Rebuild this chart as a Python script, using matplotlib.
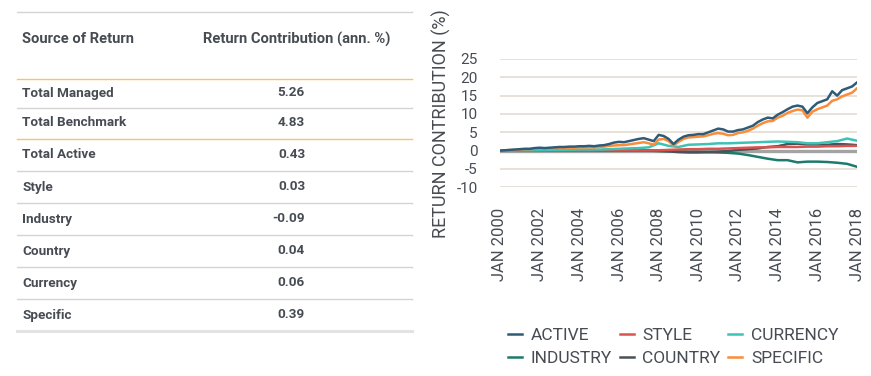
import numpy as np
import matplotlib
matplotlib.use("Agg")
import matplotlib.pyplot as plt
from matplotlib.lines import Line2D

plt.rcParams['font.family'] = ['Roboto', 'DejaVu Sans']
plt.rcParams['axes.unicode_minus'] = False

# table data
sources = ["Total Managed", "Total Benchmark", "Total Active", "Style",
           "Industry", "Country", "Currency", "Specific"]
contrib = ["5.26", "4.83", "0.43", "0.03", "-0.09", "0.04", "0.06", "0.39"]

# chart data (cumulative return contribution, %)
years_q = np.arange(2000, 2018.01, 0.25)
active = [0.0, 0.1, 0.2, 0.3, 0.4, 0.5, 0.5, 0.7, 0.8, 0.7, 0.8, 0.9,
          1.0, 1.0, 1.1, 1.1, 1.2, 1.2, 1.3, 1.2, 1.4, 1.5, 1.8, 2.2,
          2.4, 2.3, 2.6, 2.9, 3.2, 3.4, 3.0, 2.6, 4.3, 4.0, 3.2, 1.8,
          3.0, 3.8, 4.2, 4.3, 4.5, 4.5, 5.0, 5.5, 6.0, 5.8, 5.2, 5.2,
          5.6, 5.8, 6.3, 6.8, 7.8, 8.5, 9.0, 8.8, 9.8, 10.5, 11.3, 12.0,
          12.3, 12.0, 10.2, 11.8, 13.0, 13.5, 14.0, 16.2, 15.0, 16.5, 17.0, 17.5,
          18.6]
specific = [0.0, 0.1, 0.15, 0.2, 0.3, 0.4, 0.4, 0.5, 0.6, 0.5, 0.6, 0.7,
            0.7, 0.7, 0.8, 0.8, 0.9, 0.9, 0.9, 0.9, 1.0, 1.1, 1.3, 1.4,
            1.5, 1.5, 1.7, 1.9, 2.1, 2.3, 2.0, 1.6, 3.0, 3.2, 2.6, 1.4,
            2.4, 3.2, 3.6, 3.7, 3.8, 3.9, 4.2, 4.6, 4.8, 4.6, 4.2, 4.3,
            4.8, 5.0, 5.4, 6.0, 6.8, 7.5, 8.0, 8.1, 9.0, 9.5, 10.3, 10.8,
            11.2, 11.0, 9.0, 10.6, 11.3, 11.8, 12.3, 13.6, 14.0, 14.8, 15.3, 15.8,
            17.0]

years_h = np.arange(2000, 2018.01, 0.5)
currency = [0.0, 0.05, 0.1, 0.1, 0.15, 0.2, 0.2, 0.25, 0.3, 0.3, 0.3, 0.4,
            0.5, 0.6, 0.7, 0.9, 2.0, 1.3, 1.0, 1.6, 1.7, 1.8, 2.0, 2.0,
            2.1, 2.2, 2.3, 2.4, 2.5, 2.4, 2.3, 2.0, 2.0, 2.3, 2.6, 3.3,
            2.7]
industry = [0.0, 0.0, 0.05, 0.05, 0.1, 0.1, 0.1, 0.1, 0.1, 0.1, 0.1, 0.1,
            0.1, 0.1, 0.1, 0.05, 0.0, -0.1, -0.2, -0.3, -0.3, -0.4, -0.5, -0.6,
            -0.8, -1.2, -1.7, -2.2, -2.6, -2.6, -3.2, -3.0, -3.0, -3.1, -3.3, -3.6,
            -4.4]
country = [0.0, 0.0, 0.05, 0.05, 0.05, 0.05, 0.05, 0.05, 0.05, 0.05, 0.0, 0.0,
           0.0, 0.0, 0.0, 0.0, -0.1, -0.2, -0.4, -0.5, -0.5, -0.4, -0.3, -0.1,
           0.2, 0.4, 0.6, 1.0, 1.2, 1.8, 1.9, 1.7, 1.7, 1.6, 1.8, 1.7,
           1.5]
style = [0.0, 0.0, 0.0, 0.0, 0.0, 0.0, 0.0, 0.0, 0.0, 0.0, 0.05, 0.05,
         0.05, 0.05, 0.05, 0.05, 0.1, 0.2, 0.3, 0.4, 0.4, 0.5, 0.5, 0.6,
         0.7, 0.8, 0.9, 0.9, 1.0, 1.0, 1.0, 1.1, 1.1, 1.2, 1.2, 1.3,
         1.3]

tick_years = list(range(2000, 2019, 2))
tick_labels = ["JAN %d" % y for y in tick_years]

txt_col = "#474c53"

fig = plt.figure(figsize=(8.71, 3.76), dpi=100)

# ---- table (pixel layout on a blank axes) ----
tab = fig.add_axes([0, 0, 435.5 / 871, 1])
tab.set_xlim(0, 435.5)
tab.set_ylim(376, 0)
tab.axis("off")

x0, x1 = 17, 412
tab.add_line(Line2D([x0, x1], [12, 12], color="#d4d4d4", lw=1))
for y in [108, 171, 203, 235, 267, 299]:
    tab.add_line(Line2D([x0, x1], [y, y], color="#d4d4d4", lw=1))
for y in [79, 139]:
    tab.add_line(Line2D([x0, x1], [y, y], color="#f5c36b", lw=1))
tab.add_line(Line2D([x0, x1], [331, 331], color="#e3e3e3", lw=2.2))

tab.text(22, 39, "Source of Return", fontsize=10.6, fontweight="bold",
         color=txt_col, va="center", ha="left")
tab.text(203, 39, "Return Contribution (ann. %)", fontsize=10.6,
         fontweight="bold", color=txt_col, va="center", ha="left")
row_y = [93, 123, 155, 187, 219, 251, 283, 315]
for y, name, val in zip(row_y, sources, contrib):
    tab.text(22, y, name, fontsize=9.7, fontweight="bold", color=txt_col,
             va="center", ha="left")
    tab.text(305, y, val, fontsize=9.7, fontweight="bold", color=txt_col,
             va="center", ha="right")

# ---- line chart ----
ax = fig.add_axes([500 / 871, 1 - 187.3 / 376, 357 / 871, (187.3 - 59) / 376])
ax.axhline(0, color="#a3a3a3", lw=2.4, zorder=1)

lw = 1.8
ax.plot(years_h, industry, color="#1e7a6c", lw=lw, label="INDUSTRY", zorder=2)
ax.plot(years_h, country, color="#4b5158", lw=lw, label="COUNTRY", zorder=2)
ax.plot(years_h, style, color="#d9534f", lw=lw, label="STYLE", zorder=3)
ax.plot(years_h, currency, color="#3ec2b6", lw=lw, label="CURRENCY", zorder=3)
ax.plot(years_q, specific, color="#fb8c3a", lw=lw, label="SPECIFIC", zorder=4)
ax.plot(years_q, active, color="#2e5b78", lw=lw, label="ACTIVE", zorder=5)

ax.set_xlim(2000, 2018)
ax.set_ylim(-10, 25)
ax.set_yticks(range(-10, 26, 5))
ax.set_xticks(tick_years)
ax.set_xticklabels(tick_labels, rotation=90, va="top")
ax.grid(axis="y", color="#e4dbd3", lw=1.2)
ax.set_axisbelow(True)
for s in ax.spines.values():
    s.set_visible(False)
ax.tick_params(axis="y", length=0, pad=16, labelsize=11, labelcolor=txt_col)
ax.tick_params(axis="x", length=0, pad=15, labelsize=12, labelcolor=txt_col)
ax.set_ylabel("RETURN CONTRIBUTION (%)", fontsize=13, color=txt_col,
              labelpad=4)

handles, labels = ax.get_legend_handles_labels()
order = ["ACTIVE", "INDUSTRY", "STYLE", "COUNTRY", "CURRENCY", "SPECIFIC"]
hmap = dict(zip(labels, handles))
fig.legend([hmap[k] for k in order], order, ncol=3, frameon=False,
           loc="center", bbox_to_anchor=(0.773, 1 - 347 / 376),
           fontsize=12.5, handlelength=0.8, handletextpad=0.5,
           columnspacing=0.45, labelspacing=0.5, labelcolor=txt_col)

fig.savefig("out.png", dpi=100)
